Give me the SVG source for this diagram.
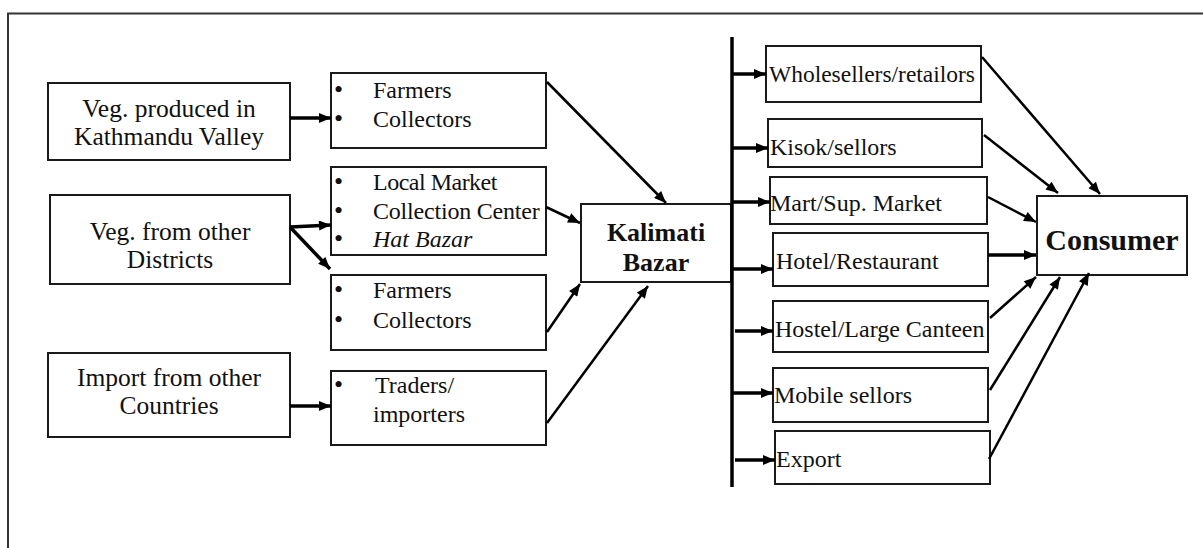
<svg xmlns="http://www.w3.org/2000/svg" width="1203" height="548" viewBox="0 0 1203 548">
<defs>
<marker id="ah" markerUnits="userSpaceOnUse" markerWidth="13" markerHeight="10" refX="12" refY="5" orient="auto" viewBox="0 0 12 10"><path d="M0,0 L12,5 L0,10 z" fill="#000"/></marker>
</defs>
<style>
.box{fill:#fff;stroke:#1a1a1a;stroke-width:2}
.t{font-family:"Liberation Serif","Times New Roman",serif;font-size:24px;fill:#111}
.big{font-size:25.5px}
.c{text-anchor:middle}
.b{font-weight:bold}
.kb{font-size:26px}
.cb{font-size:30px}
.dot{font-size:26px}
.ln{stroke:#000;stroke-width:2.5;fill:none;marker-end:url(#ah)}
.th{stroke-width:3.5}
.bar{stroke:#000;stroke-width:3.5;fill:none}
.frame{stroke:#333;stroke-width:2;fill:none}
</style>
<rect width="1203" height="548" fill="#fff"/>
<path class="frame" d="M8,548 V13.5 H1203"/>

<g id="veg-kathmandu"><rect class="box" x="48" y="83" width="242" height="77"/>
<text class="t big c" x="169" y="117">Veg. produced in</text><text class="t big c" x="169" y="145">Kathmandu  Valley</text></g>

<g id="veg-districts"><rect class="box" x="50" y="195" width="240" height="89"/>
<text class="t big c" x="170" y="240">Veg. from other</text><text class="t big c" x="170" y="268">Districts</text></g>

<g id="import"><rect class="box" x="48" y="353" width="242" height="84"/>
<text class="t big c" x="169" y="386">Import from other</text><text class="t big c" x="169" y="414">Countries</text></g>

<g id="farmers1"><rect class="box" x="331" y="73" width="215" height="75"/>
<text class="t dot" x="334" y="98">•</text><text class="t" x="373" y="98">Farmers</text>
<text class="t dot" x="334" y="127">•</text><text class="t" x="373" y="127">Collectors</text></g>

<g id="local-market"><rect class="box" x="331" y="167" width="215" height="88"/>
<text class="t dot" x="334" y="190">•</text><text class="t" x="373" y="190" letter-spacing="-0.5">Local Market</text>
<text class="t dot" x="334" y="219">•</text><text class="t" x="373" y="219" letter-spacing="-0.2">Collection Center</text>
<text class="t dot" x="334" y="247">•</text><text class="t" x="373" y="247" font-style="italic">Hat Bazar</text></g>

<g id="farmers2"><rect class="box" x="331" y="275" width="215" height="75"/>
<text class="t dot" x="334" y="298">•</text><text class="t" x="373" y="298">Farmers</text>
<text class="t dot" x="334" y="328">•</text><text class="t" x="373" y="328">Collectors</text></g>

<g id="traders"><rect class="box" x="331" y="371" width="215" height="74"/>
<text class="t dot" x="334" y="393">•</text><text class="t" x="375" y="393">Traders/</text>
<text class="t" x="373" y="422">importers</text></g>

<g id="kalimati"><rect class="box" x="581" y="204" width="150" height="78"/>
<text class="t c b kb" x="656" y="241">Kalimati</text><text class="t c b kb" x="656" y="271">Bazar</text></g>

<g id="wholesellers"><rect class="box" x="766" y="46" width="215" height="56"/>
<text class="t" x="769" y="82" textLength="206" lengthAdjust="spacingAndGlyphs">Wholesellers/retailors</text></g>
<g id="kisok"><rect class="box" x="768" y="119" width="214" height="48"/>
<text class="t" x="770" y="155">Kisok/sellors</text></g>
<g id="mart"><rect class="box" x="770" y="177" width="217" height="47"/>
<text class="t" x="770" y="211">Mart/Sup. Market</text></g>
<g id="hotel"><rect class="box" x="773" y="233" width="215" height="53"/>
<text class="t" x="776" y="269">Hotel/Restaurant</text></g>
<g id="hostel"><rect class="box" x="773" y="301" width="215" height="51"/>
<text class="t" x="775" y="337">Hostel/Large Canteen</text></g>
<g id="mobile"><rect class="box" x="773" y="368" width="215" height="54"/>
<text class="t" x="774" y="403">Mobile sellors</text></g>
<g id="export"><rect class="box" x="775" y="431" width="215" height="53"/>
<text class="t" x="776" y="467">Export</text></g>

<g id="consumer"><rect class="box" x="1037" y="196" width="150" height="79"/>
<text class="t c b cb" x="1112" y="250">Consumer</text></g>

<g id="connectors">
<line class="ln th" x1="290" y1="118" x2="331" y2="118"/>
<line class="ln th" x1="290" y1="227" x2="331" y2="225"/>
<line class="ln th" x1="290" y1="227" x2="330" y2="269"/>
<line class="ln th" x1="290" y1="406" x2="331" y2="406"/>
<line class="ln" x1="547" y1="82" x2="666" y2="203"/>
<line class="ln" x1="546" y1="207" x2="580" y2="223"/>
<line class="ln" x1="547" y1="332" x2="580" y2="284"/>
<line class="ln" x1="547" y1="423" x2="648" y2="286"/>
<line class="bar" x1="732" y1="37" x2="732" y2="487"/>
<line class="ln th" x1="732" y1="74" x2="766" y2="74"/>
<line class="ln th" x1="732" y1="148" x2="768" y2="148"/>
<line class="ln th" x1="732" y1="202" x2="770" y2="202"/>
<line class="ln th" x1="732" y1="269" x2="773" y2="269"/>
<line class="ln th" x1="735" y1="331" x2="773" y2="331"/>
<line class="ln th" x1="732" y1="393" x2="773" y2="393"/>
<line class="ln th" x1="735" y1="460" x2="775" y2="460"/>
<line class="ln" x1="982" y1="57" x2="1100" y2="194"/>
<line class="ln" x1="984" y1="135" x2="1058" y2="193"/>
<line class="ln" x1="988" y1="197" x2="1036" y2="222"/>
<line class="ln th" x1="988" y1="255" x2="1036" y2="255"/>
<line class="ln" x1="990" y1="318" x2="1036" y2="277"/>
<line class="ln" x1="990" y1="390" x2="1060" y2="277"/>
<line class="ln" x1="989" y1="459" x2="1089" y2="273"/>
</g>
</svg>
